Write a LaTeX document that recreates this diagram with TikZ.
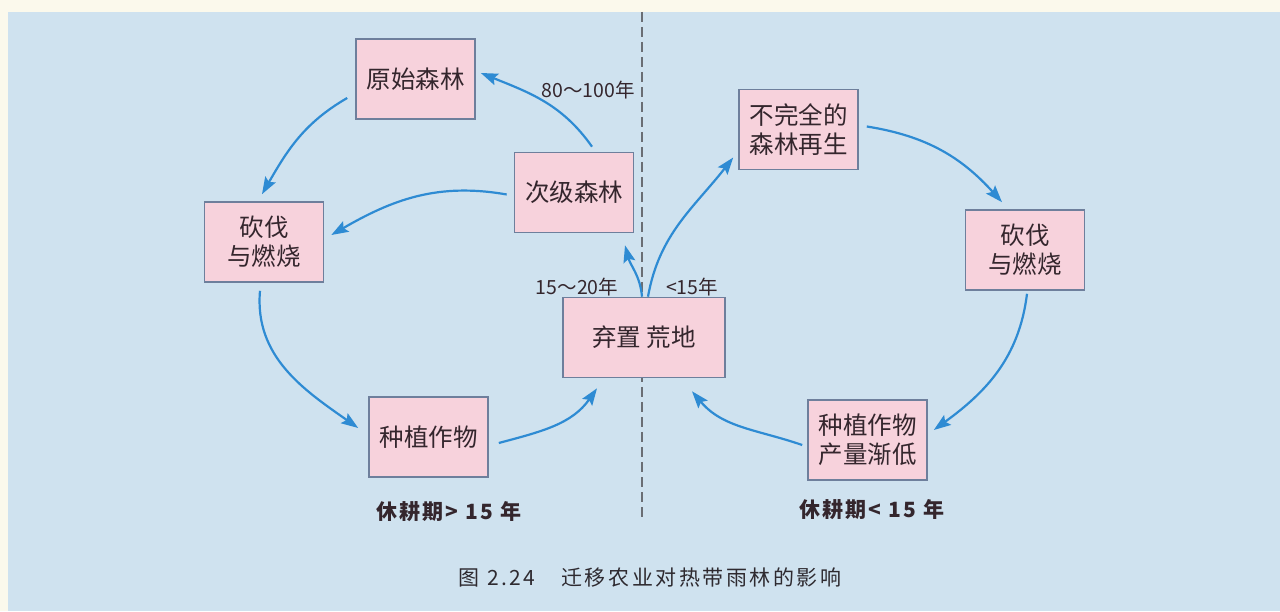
\documentclass[tikz,border=0pt]{standalone}
\usepackage{fontspec}
\setmainfont{Noto Sans CJK SC}
\newfontfamily\capfont{Noto Sans CJK SC}[LetterSpace=12]
\newfontfamily\footfont{Noto Sans CJK SC}[LetterSpace=10]
\usetikzlibrary{arrows.meta}
\definecolor{bg}{HTML}{CFE2EF}
\definecolor{boxfill}{HTML}{F7D2DC}
\definecolor{boxline}{HTML}{6E7F9C}
\definecolor{arr}{HTML}{2E8BD3}
\definecolor{txt}{HTML}{34262D}
\definecolor{captxt}{HTML}{2E2A30}
\definecolor{cream}{HTML}{FBF9EC}
\definecolor{divcol}{HTML}{6A6E74}
\begin{document}
\begin{tikzpicture}[x=1pt,y=1pt,
  stagebox/.style={draw=boxline, line width=1.6pt, fill=boxfill, text=txt, align=center,
    inner sep=0pt, minimum width=119pt, minimum height=80pt, font=\fontsize{24.5}{29}\selectfont},
  flow/.style={draw=arr, line width=2.2pt, -{Stealth[length=17pt,width=12pt,inset=3pt]}},
  lbl/.style={text=txt, inner sep=0pt, font=\fontsize{19.5}{22}\selectfont},
  foot/.style={text=txt, inner sep=0pt, font=\fontsize{21}{24}\footfont\bfseries},
  divider/.style={draw=divcol, line width=1.6pt, dash pattern=on 10pt off 5pt}]
\fill[cream] (0,0) rectangle (1280,611);
\fill[bg] (8,0) rectangle (1280,599);
\useasboundingbox (0,0) rectangle (1280,611);
\draw[divider] (642,599) -- (642,93);
% nodes
\node[stagebox] (yuanshi) at (415.5,532) {原始森林};
\node[stagebox] (ciji) at (574,418.5) {次级森林};
\node[stagebox] (kanfaL) at (264,369) {砍伐\\与燃烧};
\node[stagebox] (zhongL) at (428.5,174) {种植作物};
\node[stagebox, minimum width=162pt] (qizhi) at (644,273.5) {弃置 荒地};
\node[stagebox] (buwan) at (798.5,481.5) {不完全的\\森林再生};
\node[stagebox] (kanfaR) at (1025,361) {砍伐\\与燃烧};
\node[stagebox] (zhongR) at (867.5,171) {种植作物\\产量渐低};
% labels
\node[lbl] (l80) at (588,521) {80～100年};
\node[lbl] (l1520) at (577,324) {15～20年};
\node[lbl] (l15) at (692,324) {<15年};
\node[foot] (fl) at (449,99) {休耕期> 15 年};
\node[foot] (fr) at (872,101) {休耕期< 15 年};
\node[text=captxt, inner sep=0pt, font=\fontsize{21}{24}\capfont] (cap) at (650,33) {图 2.24　迁移农业对热带雨林的影响};
% arrows
\draw[flow] ([xshift=18pt,yshift=5pt]ciji.north) to[out=125,in=-22] ([xshift=5pt,yshift=6pt]yuanshi.east);
\draw[flow] ([xshift=-8pt,yshift=-19pt]yuanshi.west) to[out=210,in=60] ([xshift=-2pt,yshift=7pt]kanfaL.north);
\draw[flow] ([xshift=-7pt,yshift=-2pt]ciji.west) to[out=170,in=30] ([xshift=7pt,yshift=7pt]kanfaL.east);
\draw[flow] ([xshift=-4pt,yshift=-8pt]kanfaL.south) to[out=-95,in=145] ([xshift=-10pt,yshift=9pt]zhongL.west);
\draw[flow] ([xshift=10pt,yshift=-6pt]zhongL.east) to[out=15,in=-125] ([xshift=-47pt,yshift=-10pt]qizhi.south);
\draw[flow] ([xshift=-2pt]qizhi.north) to[out=95,in=-75] ([xshift=51pt,yshift=-12pt]ciji.south);
\draw[flow] ([xshift=4pt]qizhi.north) to[out=80,in=-128] ([xshift=-5pt,yshift=-28pt]buwan.west);
\draw[flow] ([xshift=8pt,yshift=3pt]buwan.east) to[out=-9,in=132] ([xshift=-23pt,yshift=7pt]kanfaR.north);
\draw[flow] ([xshift=2pt,yshift=-3pt]kanfaR.south) to[out=-97,in=36] ([xshift=6pt,yshift=10pt]zhongR.east);
\draw[flow] ([xshift=-5pt,yshift=-5pt]zhongR.west) to[out=161,in=-50] ([xshift=48pt,yshift=-13pt]qizhi.south);
\end{tikzpicture}
\end{document}
